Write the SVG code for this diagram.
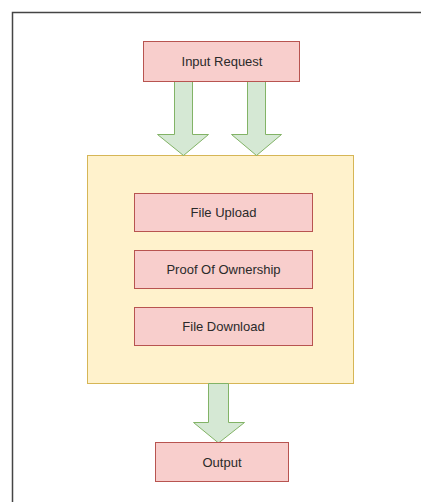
<svg xmlns="http://www.w3.org/2000/svg" width="421" height="502" viewBox="0 0 421 502">
  <style>
    .box { fill: #f8cecc; stroke: #b85450; stroke-width: 1; }
    .group { fill: #fff2cc; stroke: #d6b656; stroke-width: 1; }
    .arrow { fill: #d5e8d4; stroke: #82b366; stroke-width: 1; stroke-linejoin: miter; }
    .label { font-family: "Liberation Sans", Arial, sans-serif; font-size: 13px; fill: #2a2a2a; text-anchor: middle; dominant-baseline: central; }
  </style>
  <rect width="421" height="502" fill="#ffffff"/>
  <!-- page frame: top and left edges -->
  <path d="M12.5 502 V12.5 H421" fill="none" stroke="#444" stroke-width="1.5"/>

  <g id="processing">
    <rect class="group" x="87.5" y="155.5" width="266" height="228"/>
  </g>

  <g id="connectors">
    <polygon class="arrow" points="174.5,81.5 192.5,81.5 192.5,134.5 208.5,134.5 183.5,155.5 157.5,134.5 174.5,134.5"/>
    <polygon class="arrow" points="247.5,81.5 265.5,81.5 265.5,134.5 281.5,134.5 256.5,155.5 231.5,134.5 247.5,134.5"/>
    <polygon class="arrow" points="208.5,383.5 228.5,383.5 228.5,422.5 244.5,422.5 218.5,443 193.5,422.5 208.5,422.5"/>
  </g>

  <g id="input-request">
    <rect class="box" x="143.5" y="41.5" width="156" height="40"/>
    <text class="label" x="222" y="61.5">Input Request</text>
  </g>
  <g id="file-upload">
    <rect class="box" x="134.5" y="193.5" width="178" height="38"/>
    <text class="label" x="223.5" y="212.5">File Upload</text>
  </g>
  <g id="proof-of-ownership">
    <rect class="box" x="134.5" y="250.5" width="178" height="38"/>
    <text class="label" x="223.5" y="269.5">Proof Of Ownership</text>
  </g>
  <g id="file-download">
    <rect class="box" x="134.5" y="307.5" width="178" height="38"/>
    <text class="label" x="223.5" y="326.5">File Download</text>
  </g>
  <g id="output">
    <rect class="box" x="155.5" y="442.5" width="133" height="39"/>
    <text class="label" x="222" y="462">Output</text>
  </g>
</svg>
